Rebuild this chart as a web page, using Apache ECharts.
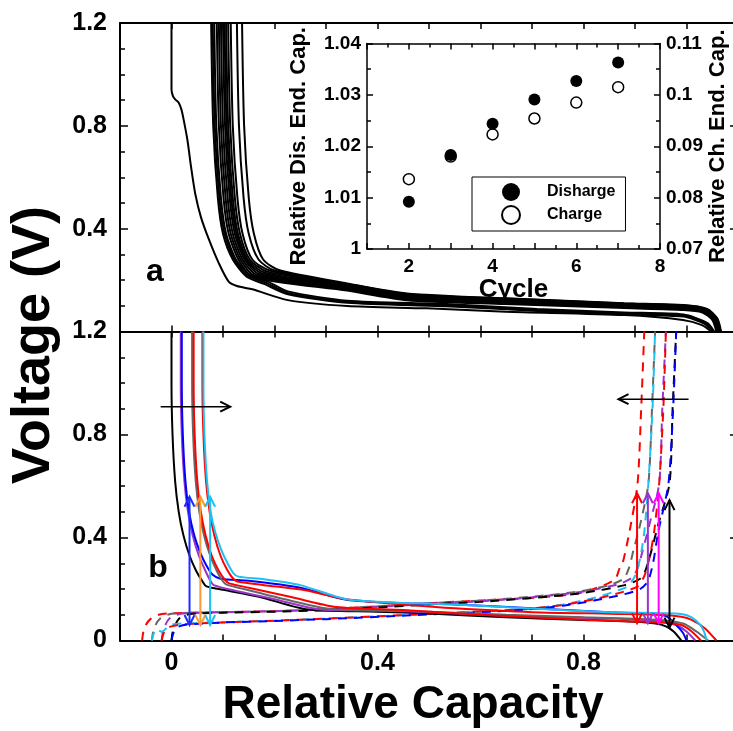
<!DOCTYPE html>
<html><head><meta charset="utf-8">
<script src="https://cdn.jsdelivr.net/npm/echarts/dist/echarts.min.js"></script>
<style>html,body{margin:0;padding:0;background:#fff;overflow:hidden}#c{width:745px;height:731px}</style>
</head><body><div id="c"></div>
<script>
// ---------- DATA ----------
// panel a: discharge curves of all cycles (Relative Capacity, Voltage)
const topCurves = [
 [[0,1.2],[0,0.94],[0.003,0.915],[0.0076,0.902],[0.014,0.89],[0.019,0.865],[0.023,0.83],[0.031,0.744],[0.038,0.64],[0.046,0.537],[0.057,0.446],[0.073,0.356],[0.092,0.265],[0.111,0.194],[0.127,0.177],[0.157,0.164],[0.226,0.122],[0.341,0.099],[0.495,0.09],[0.649,0.077],[0.879,0.064],[0.993,0.045],[1.03,0.025],[1.048,0]],
 [[0.077,1.2],[0.081,0.8],[0.09,0.52],[0.1,0.38],[0.119,0.28],[0.146,0.213],[0.18,0.185],[0.226,0.145],[0.341,0.112],[0.533,0.098],[0.71,0.08],[0.879,0.066],[0.994,0.058],[1.035,0.03],[1.05,0]],
 [[0.08,1.2],[0.084,0.8],[0.093,0.52],[0.103,0.38],[0.122,0.28],[0.149,0.216],[0.183,0.19],[0.226,0.15],[0.341,0.116],[0.533,0.103],[0.71,0.084],[0.879,0.07],[0.994,0.062],[1.038,0.032],[1.052,0]],
 [[0.083,1.2],[0.087,0.8],[0.096,0.52],[0.106,0.38],[0.125,0.28],[0.152,0.22],[0.186,0.195],[0.226,0.156],[0.341,0.12],[0.533,0.107],[0.71,0.088],[0.879,0.074],[0.994,0.066],[1.04,0.034],[1.054,0]],
 [[0.088,1.2],[0.092,0.8],[0.101,0.52],[0.111,0.38],[0.13,0.28],[0.158,0.212],[0.341,0.159],[0.457,0.122],[0.648,0.107],[0.879,0.091],[0.994,0.084],[1.03,0.075],[1.05,0.045],[1.058,0]],
 [[0.092,1.2],[0.096,0.8],[0.105,0.52],[0.115,0.38],[0.134,0.28],[0.162,0.216],[0.341,0.163],[0.457,0.125],[0.648,0.11],[0.879,0.094],[0.994,0.087],[1.032,0.077],[1.052,0.045],[1.06,0]],
 [[0.096,1.2],[0.1,0.8],[0.109,0.52],[0.119,0.38],[0.138,0.28],[0.166,0.22],[0.341,0.167],[0.457,0.129],[0.648,0.113],[0.879,0.096],[0.994,0.089],[1.033,0.078],[1.053,0.046],[1.061,0]],
 [[0.1,1.2],[0.104,0.8],[0.113,0.52],[0.123,0.38],[0.142,0.28],[0.17,0.224],[0.341,0.171],[0.457,0.133],[0.648,0.116],[0.879,0.099],[0.994,0.092],[1.034,0.08],[1.054,0.047],[1.062,0]],
 [[0.103,1.2],[0.107,0.8],[0.116,0.52],[0.126,0.38],[0.145,0.28],[0.175,0.227],[0.341,0.174],[0.457,0.136],[0.648,0.119],[0.879,0.101],[0.994,0.094],[1.035,0.082],[1.055,0.048],[1.063,0]],
 [[0.106,1.2],[0.11,0.8],[0.119,0.52],[0.129,0.38],[0.148,0.28],[0.18,0.23],[0.341,0.177],[0.457,0.139],[0.648,0.121],[0.879,0.103],[0.994,0.096],[1.036,0.083],[1.056,0.048],[1.064,0]],
 [[0.11,1.2],[0.114,0.8],[0.123,0.52],[0.133,0.38],[0.152,0.28],[0.186,0.233],[0.341,0.18],[0.457,0.141],[0.648,0.123],[0.879,0.105],[0.994,0.098],[1.037,0.085],[1.057,0.049],[1.065,0]],
 [[0.115,1.2],[0.119,0.8],[0.128,0.52],[0.138,0.38],[0.157,0.28],[0.192,0.236],[0.341,0.183],[0.457,0.144],[0.648,0.126],[0.879,0.107],[0.994,0.1],[1.038,0.086],[1.058,0.05],[1.066,0]],
 [[0.127,1.2],[0.131,0.8],[0.14,0.52],[0.15,0.38],[0.169,0.28],[0.2,0.237],[0.341,0.185],[0.457,0.146],[0.648,0.128],[0.879,0.109],[0.994,0.102],[1.039,0.087],[1.059,0.05],[1.066,0]],
 [[0.137,1.2],[0.141,0.8],[0.15,0.52],[0.16,0.38],[0.178,0.28],[0.21,0.238],[0.341,0.187],[0.457,0.148],[0.648,0.129],[0.879,0.11],[0.994,0.103],[1.04,0.088],[1.06,0.05],[1.067,0]]
];

// panel b: discharge (solid) curves
const dischargeCurves = [
 [[0,1.2],[0,1.0],[0.002,0.8],[0.007,0.62],[0.014,0.5],[0.023,0.41],[0.035,0.33],[0.048,0.27],[0.06,0.23],[0.068,0.21],[0.1,0.197],[0.17,0.17],[0.265,0.12],[0.4,0.112],[0.5,0.105],[0.65,0.09],[0.8,0.08],[0.9,0.073],[0.94,0.066],[0.96,0.055],[0.975,0.035],[0.99,0]],
 [[0.018,1.2],[0.018,1.0],[0.02,0.8],[0.025,0.62],[0.032,0.5],[0.041,0.41],[0.053,0.33],[0.066,0.27],[0.076,0.23],[0.082,0.215],[0.12,0.195],[0.2,0.16],[0.29,0.12],[0.4,0.116],[0.5,0.11],[0.65,0.096],[0.8,0.088],[0.9,0.082],[0.95,0.075],[0.98,0.06],[1.0,0.035],[1.017,0]],
 [[0.02,1.2],[0.02,1.0],[0.022,0.8],[0.027,0.62],[0.034,0.5],[0.044,0.41],[0.056,0.34],[0.068,0.29],[0.08,0.255],[0.095,0.24],[0.15,0.232],[0.25,0.205],[0.34,0.158],[0.45,0.145],[0.55,0.14],[0.7,0.125],[0.85,0.11],[0.93,0.104],[0.96,0.095],[0.98,0.06],[0.993,0.03],[1.0,0]],
 [[0.04,1.2],[0.04,1.0],[0.042,0.8],[0.047,0.62],[0.054,0.5],[0.063,0.41],[0.075,0.33],[0.088,0.27],[0.098,0.235],[0.106,0.218],[0.14,0.2],[0.22,0.16],[0.31,0.122],[0.4,0.118],[0.5,0.112],[0.65,0.1],[0.8,0.09],[0.9,0.084],[0.96,0.078],[0.995,0.065],[1.02,0.034],[1.042,0]],
 [[0.043,1.2],[0.043,1.0],[0.045,0.8],[0.05,0.62],[0.057,0.5],[0.066,0.41],[0.078,0.33],[0.092,0.27],[0.104,0.235],[0.112,0.222],[0.15,0.205],[0.23,0.17],[0.32,0.13],[0.45,0.118],[0.6,0.1],[0.75,0.085],[0.88,0.075],[0.95,0.07],[0.99,0.06],[1.01,0.035],[1.028,0]],
 [[0.06,1.2],[0.06,1.0],[0.062,0.8],[0.067,0.62],[0.074,0.5],[0.083,0.41],[0.095,0.33],[0.108,0.275],[0.12,0.24],[0.13,0.228],[0.18,0.215],[0.26,0.195],[0.34,0.16],[0.45,0.14],[0.55,0.125],[0.7,0.11],[0.85,0.104],[0.95,0.1],[0.99,0.092],[1.01,0.08],[1.036,0.047],[1.058,0]],
 [[0.062,1.2],[0.062,1.0],[0.064,0.8],[0.069,0.62],[0.076,0.5],[0.085,0.42],[0.097,0.35],[0.11,0.295],[0.12,0.262],[0.13,0.248],[0.18,0.238],[0.25,0.215],[0.34,0.16],[0.45,0.146],[0.55,0.14],[0.7,0.124],[0.85,0.11],[0.95,0.106],[0.99,0.103],[1.01,0.09],[1.027,0.06],[1.035,0.03],[1.039,0]]
];
// panel b: charge (dashed) curves
const chargeCurves = [
 [[-0.057,0],[-0.055,0.03],[-0.05,0.06],[-0.04,0.085],[-0.025,0.1],[0,0.106],[0.1,0.11],[0.2,0.114],[0.3,0.122],[0.4,0.133],[0.5,0.145],[0.6,0.155],[0.7,0.165],[0.79,0.183],[0.84,0.215],[0.862,0.24],[0.87,0.28],[0.876,0.3],[0.89,0.43],[0.905,0.61],[0.912,0.9],[0.918,1.2]],
 [[-0.038,0],[-0.036,0.03],[-0.031,0.06],[-0.022,0.085],[-0.008,0.1],[0.01,0.106],[0.1,0.11],[0.2,0.114],[0.3,0.122],[0.4,0.133],[0.5,0.145],[0.6,0.155],[0.7,0.17],[0.79,0.19],[0.85,0.215],[0.878,0.24],[0.888,0.28],[0.897,0.35],[0.91,0.45],[0.926,0.61],[0.933,0.9],[0.939,1.2]],
 [[-0.019,0],[-0.017,0.03],[-0.012,0.06],[-0.004,0.085],[0.01,0.1],[0.03,0.106],[0.1,0.11],[0.2,0.114],[0.3,0.12],[0.4,0.13],[0.5,0.142],[0.6,0.152],[0.7,0.168],[0.8,0.19],[0.87,0.22],[0.895,0.245],[0.905,0.28],[0.915,0.35],[0.928,0.45],[0.947,0.61],[0.953,0.9],[0.96,1.2]],
 [[0,0],[0.002,0.03],[0.007,0.06],[0.015,0.085],[0.03,0.1],[0.05,0.105],[0.1,0.108],[0.2,0.112],[0.3,0.118],[0.4,0.128],[0.5,0.14],[0.6,0.15],[0.7,0.165],[0.8,0.185],[0.88,0.215],[0.91,0.24],[0.92,0.27],[0.932,0.35],[0.945,0.45],[0.967,0.61],[0.973,0.9],[0.98,1.2]],
 [[-0.038,0],[-0.035,0.025],[-0.03,0.045],[-0.019,0.034],[-0.0025,0.06],[0.033,0.067],[0.1,0.071],[0.2,0.077],[0.3,0.085],[0.464,0.1],[0.6,0.112],[0.687,0.121],[0.76,0.14],[0.82,0.165],[0.86,0.19],[0.885,0.21],[0.9,0.25],[0.91,0.32],[0.918,0.42],[0.926,0.61],[0.934,0.9],[0.939,1.2]],
 [[-0.019,0],[-0.016,0.025],[-0.01,0.045],[0,0.055],[0.02,0.062],[0.05,0.066],[0.1,0.07],[0.2,0.077],[0.3,0.085],[0.464,0.1],[0.6,0.113],[0.687,0.122],[0.76,0.138],[0.82,0.16],[0.87,0.185],[0.905,0.21],[0.918,0.25],[0.928,0.32],[0.937,0.42],[0.947,0.61],[0.955,0.9],[0.96,1.2]],
 [[0,0],[0.003,0.025],[0.008,0.045],[0.015,0.055],[0.03,0.062],[0.06,0.066],[0.1,0.07],[0.2,0.076],[0.3,0.083],[0.464,0.098],[0.6,0.11],[0.687,0.12],[0.76,0.135],[0.82,0.155],[0.88,0.18],[0.91,0.2],[0.925,0.23],[0.935,0.3],[0.945,0.42],[0.965,0.61],[0.974,0.9],[0.98,1.2]]
];
// arrows in panel b
const leftArrowX = [0.035, 0.056, 0.075];
const leftArrowY = [0.06, 0.558];
const rightArrowX = [0.904, 0.925, 0.946, 0.967];
const rightArrowLow = [0.067, 0.067, 0.067, 0.05];
const rightArrowHigh = [0.572, 0.572, 0.572, 0.545];
const hArrows = [[-0.021, 0.114, 0.908], [1.004, 0.868, 0.937]];

// inset
const cycles = [2, 3, 4, 5, 6, 7];
const dischargeEnd = [1.0092, 1.0183, 1.0244, 1.0291, 1.0327, 1.0363];
const chargeEnd = [0.0836, 0.088, 0.0923, 0.0954, 0.0985, 0.1015];

// ---------- STYLE ----------
const FONT = 'Liberation Sans, Arial, sans-serif';
const dischargeColors = ['#000000', '#9933cc', '#0000ff', '#666666', '#ff0000', '#ff0000', '#1ec0f0'];
const chargeColors = ['#ff0000', '#666666', '#9933cc', '#000000', '#1ec0f0', '#ff0000', '#0000ff'];
const leftArrowColors = ['#1a2cff', '#ff9933', '#1ec0f0'];
const rightArrowColors = ['#ff0000', '#9933cc', '#ff00ff', '#000000'];

const chart = echarts.init(document.getElementById('c'), null, {renderer: 'canvas'});

function mainX(grid, pos, labels) {
  return {
    type: 'value', gridIndex: grid, position: pos, min: -0.1, max: 1.1, interval: 0.1,
    axisLine: {onZero: false, lineStyle: {color: '#000', width: 2}},
    axisTick: {inside: true, length: 6, lineStyle: {color: '#000', width: 1.5}},
    splitLine: {show: false},
    axisLabel: labels ? {
      show: true, margin: 10, color: '#000', fontSize: 25, fontWeight: 'bold', fontFamily: FONT,
      formatter: v => { const r = Math.round(v * 10); return (r >= 0 && r % 4 === 0) ? String(r / 10) : ''; }
    } : {show: false}
  };
}
function mainY(grid, pos, labels, hideZero) {
  return {
    type: 'value', gridIndex: grid, position: pos, min: 0, max: 1.2, interval: 0.4,
    axisLine: {onZero: false, lineStyle: {color: '#000', width: 2}},
    axisTick: {inside: true, length: 8, lineStyle: {color: '#000', width: 1.5}},
    minorTick: {show: true, splitNumber: 4, length: 5, lineStyle: {color: '#000', width: 1.5}},
    splitLine: {show: false},
    axisLabel: labels ? {
      show: true, margin: 13, color: '#000', fontSize: 25, fontWeight: 'bold', fontFamily: FONT,
      formatter: v => { const r = Math.round(v * 10); if (hideZero && r === 0) return ''; return String(r / 10); }
    } : {show: false}
  };
}

const insetLabel = {color: '#000', fontSize: 19, fontWeight: 'bold', fontFamily: FONT};
const insetName = {color: '#000', fontSize: 22, fontWeight: 'bold', fontFamily: FONT};

const xAxis = [
  mainX(0, 'bottom', false), mainX(0, 'top', false),
  mainX(1, 'bottom', true), mainX(1, 'top', false),
  {type: 'value', gridIndex: 2, position: 'bottom', min: 1, max: 8, interval: 1,
   axisLine: {onZero: false, lineStyle: {color: '#000', width: 1.5}},
   axisTick: {inside: true, length: 6, lineStyle: {color: '#000', width: 1.5}},
   minorTick: {show: true, splitNumber: 2, length: 4, lineStyle: {color: '#000', width: 1.5}},
   splitLine: {show: false},
   axisLabel: Object.assign({margin: 8, formatter: v => (v % 2 === 0 ? String(v) : '')}, insetLabel),
   name: 'Cycle', nameLocation: 'middle', nameGap: 25, nameTextStyle: {color: '#000', fontSize: 26, fontWeight: 'bold', fontFamily: FONT}},
  {type: 'value', gridIndex: 2, position: 'top', min: 1, max: 8, interval: 1,
   axisLine: {onZero: false, lineStyle: {color: '#000', width: 1.5}},
   axisTick: {inside: true, length: 6, lineStyle: {color: '#000', width: 1.5}},
   minorTick: {show: true, splitNumber: 2, length: 4, lineStyle: {color: '#000', width: 1.5}},
   splitLine: {show: false}, axisLabel: {show: false}}
];
const yAxis = [
  mainY(0, 'left', true, true), mainY(0, 'right', false),
  mainY(1, 'left', true, false), mainY(1, 'right', false),
  {type: 'value', gridIndex: 2, position: 'left', min: 1, max: 1.04, interval: 0.01,
   axisLine: {onZero: false, lineStyle: {color: '#000', width: 1.5}},
   axisTick: {inside: true, length: 6, lineStyle: {color: '#000', width: 1.5}},
   minorTick: {show: true, splitNumber: 2, length: 4, lineStyle: {color: '#000', width: 1.5}},
   splitLine: {show: false},
   axisLabel: Object.assign({margin: 6, formatter: v => String(Math.round(v * 100) / 100)}, insetLabel),
   name: 'Relative Dis. End. Cap.', nameLocation: 'middle', nameGap: 57, nameRotate: 90, nameTextStyle: insetName},
  {type: 'value', gridIndex: 2, position: 'right', min: 0.07, max: 0.11, interval: 0.01,
   axisLine: {onZero: false, lineStyle: {color: '#000', width: 1.5}},
   axisTick: {inside: true, length: 6, lineStyle: {color: '#000', width: 1.5}},
   minorTick: {show: true, splitNumber: 2, length: 4, lineStyle: {color: '#000', width: 1.5}},
   splitLine: {show: false},
   axisLabel: Object.assign({margin: 6, formatter: v => String(Math.round(v * 100) / 100)}, insetLabel),
   name: 'Relative Ch. End. Cap.', nameLocation: 'middle', nameGap: 47, nameRotate: 90, nameTextStyle: insetName}
];

const series = [];
topCurves.forEach(c => series.push({
  type: 'line', xAxisIndex: 0, yAxisIndex: 0, data: c, showSymbol: false, smooth: 0.25,
  lineStyle: {color: '#000', width: 2}, silent: true, z: 2
}));
chargeCurves.forEach((c, i) => series.push({
  type: 'line', xAxisIndex: 2, yAxisIndex: 2, data: c, showSymbol: false, smooth: 0.25,
  lineStyle: {color: chargeColors[i], width: 2, type: [9, 7]}, silent: true, z: 2
}));
dischargeCurves.forEach((c, i) => series.push({
  type: 'line', xAxisIndex: 2, yAxisIndex: 2, data: c, showSymbol: false, smooth: 0.25,
  lineStyle: {color: dischargeColors[i], width: 2}, silent: true, z: 3
}));

function chevron(tx, ty, dx, dy, color) {
  const L = 10, W = 5;
  const bx = tx - dx * L, by = ty - dy * L;
  return {type: 'polyline', shape: {points: [[bx - dy * W, by + dx * W], [tx, ty], [bx + dy * W, by - dx * W]]},
          style: {stroke: color, lineWidth: 2, fill: null}};
}
function vArrowSeries(x, y1, y2, color) {
  return {
    type: 'custom', xAxisIndex: 2, yAxisIndex: 2, data: [[x, y1, y2]], silent: true, z: 5,
    renderItem: (params, api) => {
      const p1 = api.coord([api.value(0), api.value(1)]);
      const p2 = api.coord([api.value(0), api.value(2)]);
      return {type: 'group', children: [
        {type: 'line', shape: {x1: p1[0], y1: p1[1], x2: p2[0], y2: p2[1]}, style: {stroke: color, lineWidth: 2}},
        chevron(p2[0], p2[1], 0, -1, color),
        chevron(p1[0], p1[1], 0, 1, color)
      ]};
    }
  };
}
leftArrowX.forEach((x, i) => series.push(vArrowSeries(x, leftArrowY[0], leftArrowY[1], leftArrowColors[i])));
rightArrowX.forEach((x, i) => series.push(vArrowSeries(x, rightArrowLow[i], rightArrowHigh[i], rightArrowColors[i])));
series.push({
  type: 'custom', xAxisIndex: 2, yAxisIndex: 2, data: hArrows, silent: true, z: 5,
  renderItem: (params, api) => {
    const p1 = api.coord([api.value(0), api.value(2)]);
    const p2 = api.coord([api.value(1), api.value(2)]);
    const dir = p2[0] > p1[0] ? 1 : -1;
    return {type: 'group', children: [
      {type: 'line', shape: {x1: p1[0], y1: p1[1], x2: p2[0], y2: p2[1]}, style: {stroke: '#000', lineWidth: 1.5}},
      chevron(p2[0], p2[1], dir, 0, '#000')
    ]};
  }
});
series.push({
  name: 'Charge', type: 'scatter', xAxisIndex: 4, yAxisIndex: 5, symbol: 'circle', symbolSize: 11,
  data: cycles.map((c, i) => [c, chargeEnd[i]]),
  itemStyle: {color: '#fff', borderColor: '#000', borderWidth: 1.5, opacity: 1}, z: 4
});
series.push({
  name: 'Disharge', type: 'scatter', xAxisIndex: 4, yAxisIndex: 4, symbol: 'circle', symbolSize: 12,
  data: cycles.map((c, i) => [c, dischargeEnd[i]]),
  itemStyle: {color: '#000', borderColor: '#000', borderWidth: 0, opacity: 1}, z: 5
});

const option = {
  animation: false,
  backgroundColor: '#fff',
  grid: [
    {left: 120, top: 23, width: 618, height: 308.5},
    {left: 120, top: 331.5, width: 618, height: 309},
    {left: 367, top: 43.5, width: 293, height: 205.5}
  ],
  xAxis, yAxis, series,
  legend: {
    data: ['Disharge', 'Charge'], left: 472, top: 177, orient: 'vertical', icon: 'circle',
    itemWidth: 18, itemHeight: 18, itemGap: 4, padding: [6, 10, 6, 29],
    borderColor: '#000', borderWidth: 1, backgroundColor: '#fff', selectedMode: false,
    textStyle: {color: '#000', fontSize: 16, fontWeight: 'bold', fontFamily: FONT, padding: [0, 0, 0, 22]}
  },
  graphic: [
    {type: 'text', x: 34, y: 345, rotation: Math.PI / 2,
     style: {text: 'Voltage (V)', fill: '#000', font: 'bold 54px ' + FONT, textAlign: 'center', textVerticalAlign: 'middle'}},
    {type: 'text', x: 413, y: 705,
     style: {text: 'Relative Capacity', fill: '#000', font: 'bold 46px ' + FONT, textAlign: 'center', textVerticalAlign: 'middle'}},
    {type: 'text', x: 155, y: 272,
     style: {text: 'a', fill: '#000', font: 'bold 32px ' + FONT, textAlign: 'center', textVerticalAlign: 'middle'}},
    {type: 'text', x: 158, y: 568,
     style: {text: 'b', fill: '#000', font: 'bold 32px ' + FONT, textAlign: 'center', textVerticalAlign: 'middle'}}
  ]
};
chart.setOption(option);
</script></body></html>
